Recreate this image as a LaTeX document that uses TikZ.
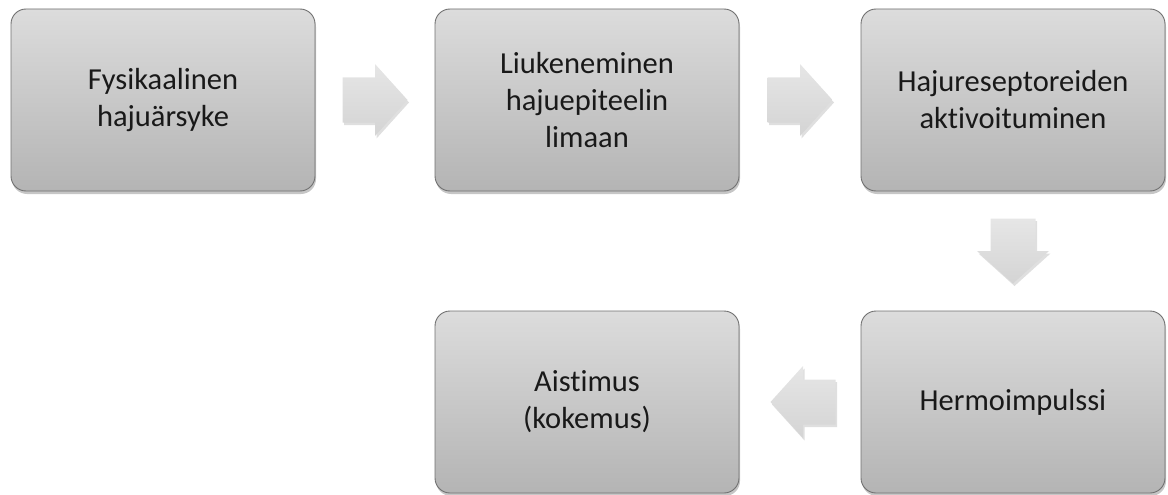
\documentclass[tikz,border=0pt]{standalone}
\usepackage{fontspec}
\setmainfont{Carlito}[Ligatures=NoCommon]
\usetikzlibrary{shadows,calc}
\definecolor{boxtop}{HTML}{DCDCDC}
\definecolor{boxbottom}{HTML}{B4B4B4}
\definecolor{boxline}{HTML}{707070}
\definecolor{arrowtop}{HTML}{E6E6E6}
\definecolor{arrowbottom}{HTML}{D4D4D4}
\tikzset{
  stagebox/.style={draw=boxline, line width=0.9pt, rounded corners=15pt,
    top color=boxtop, bottom color=boxbottom,
    minimum width=304pt, minimum height=182pt, align=center,
    text=black!90, font=\fontsize{30.5}{37}\selectfont,
    drop shadow={opacity=0.45, shadow xshift=1pt, shadow yshift=-3pt}},
  arrowfill/.style={draw=none, top color=arrowtop, bottom color=arrowbottom,
    drop shadow={opacity=0.25, shadow xshift=1.5pt, shadow yshift=-2.5pt}},
  flowarrow/.pic={
    \path[arrowfill] (-32.5,-22.5) -- (0,-22.5) -- (0,-36) -- (32.5,0)
      -- (0,36) -- (0,22.5) -- (-32.5,22.5) -- cycle;
  }
}
\begin{document}
\begin{tikzpicture}[x=1pt,y=-1pt]
\useasboundingbox (0,0) rectangle (1168,495);
%boxes
\node[stagebox] (fys) at (163,100) {Fysikaalinen\\hajuärsyke};
\node[stagebox] (liuk) at (587,100) {Liukeneminen\\hajuepiteelin\\limaan};
\node[stagebox] (akt) at (1013,100) {Hajureseptoreiden\\aktivoituminen};
\node[stagebox] (herm) at (1013,402) {Hermoimpulssi};
\node[stagebox] (aist) at (587,402) {Aistimus\\(kokemus)};
%arrows
\coordinate (a1) at ($(fys.east)!0.5!(liuk.west)$);
\coordinate (a2) at ($(liuk.east)!0.5!(akt.west)$);
\coordinate (a3) at ($(akt.south)!0.5!(herm.north)$);
\coordinate (a4) at ($(herm.west)!0.5!(aist.east)+(3,0)$);
\pic at (a1) {flowarrow};
\pic at (a2) {flowarrow};
\pic[rotate=-90] at (a3) {flowarrow};
\pic[rotate=180] at (a4) {flowarrow};
\end{tikzpicture}
\end{document}
